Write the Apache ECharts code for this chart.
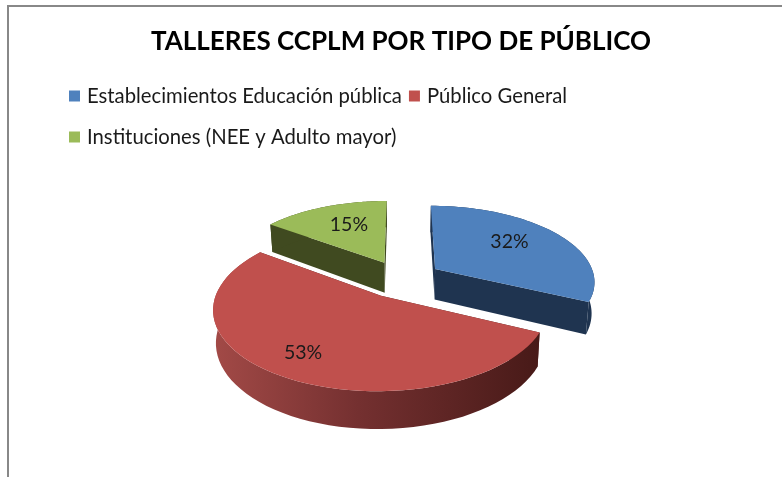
<!DOCTYPE html>
<html>
<head>
<meta charset="utf-8">
<script src="https://cdn.jsdelivr.net/npm/echarts@6/dist/echarts.min.js"></script>
<style>
  html, body { margin: 0; padding: 0; background: #fff; }
  #frame { position: absolute; left: 7px; top: 5px; width: 775px; height: 472px; border-left: 2px solid #888; border-top: 2px solid #888; box-sizing: border-box; }
  #chart { position: absolute; left: 0; top: 0; width: 782px; height: 477px; }
</style>
</head>
<body>
<div id="frame"></div>
<div id="chart"></div>
<script>
const titleText = 'TALLERES CCPLM POR TIPO DE PÚBLICO';
const categories = ['Establecimientos Educación pública', 'Público General', 'Instituciones (NEE y Adulto mayor)'];
const values = [32, 53, 15];

const topColors = ['#4F81BD', '#C0504D', '#9BBB59'];
const wallColors = ['#1F3450', '#4F1F1D', '#404A20'];
const labelRadius = [0.6, 0.8, 0.56];
const labelLift = 5;

// perspective of the tilted pie
const view = { cx: 402, cy: 279, a: 160, b: 75.5, c: 0.15, depth: 31, explode: 0.25, shrink: 0.985 };
const total = values.reduce((s, v) => s + v, 0);

function project(u, v, low) {
  const w = 1 - view.c * v;
  return [
    view.cx + view.a * u / w * (low ? view.shrink : 1),
    view.cy + view.b * v / w + (low ? view.depth / w : 0)
  ];
}

function renderSlice(index) {
  const start = values.slice(0, index).reduce((s, v) => s + v, 0) / total * Math.PI * 2;
  const sweep = values[index] / total * Math.PI * 2;
  const mid = start + sweep / 2;
  const ou = Math.sin(mid) * view.explode;
  const ov = -Math.cos(mid) * view.explode;
  const onRim = (t, low) => project(ou + Math.sin(t), ov - Math.cos(t), low);

  const steps = 60;
  const top = [], bottom = [];
  for (let i = 0; i <= steps; i++) {
    const t = start + sweep * i / steps;
    top.push(onRim(t, false));
    bottom.push(onRim(t, true));
  }
  const apexTop = project(ou, ov, false);
  const apexLow = project(ou, ov, true);

  let rimFill = wallColors[index];
  if (index === 1) {
    rimFill = new echarts.graphic.LinearGradient(212, 0, 538, 0, [
      { offset: 0, color: '#A34A47' },
      { offset: 0.45, color: '#743030' },
      { offset: 1, color: '#481A18' }
    ], true);
  }
  const z = Math.round((-Math.cos(mid) + 1) * 10);
  const lr = labelRadius[index];
  const labelPos = project(ou + Math.sin(mid) * lr, ov - Math.cos(mid) * lr, false);

  return {
    type: 'group',
    children: [
      { type: 'polygon', z2: z, shape: { points: [apexTop, top[0], bottom[0], apexLow] }, style: { fill: wallColors[index] } },
      { type: 'polygon', z2: z, shape: { points: [apexTop, top[steps], bottom[steps], apexLow] }, style: { fill: wallColors[index] } },
      { type: 'polygon', z2: z, shape: { points: top.concat(bottom.slice().reverse()) }, style: { fill: rimFill } },
      { type: 'polygon', z2: z + 1, shape: { points: [apexTop].concat(top) }, style: { fill: topColors[index] } },
      {
        type: 'text', z2: 50,
        style: {
          text: Math.round(values[index] / total * 100) + '%',
          x: labelPos[0], y: labelPos[1] - labelLift,
          fill: '#1a1a1a', font: '19.5px Lato', align: 'center', verticalAlign: 'middle'
        }
      }
    ]
  };
}

const chart = echarts.init(document.getElementById('chart'), null, { renderer: 'canvas' });
chart.setOption({
  animation: false,
  backgroundColor: 'transparent',
  title: {
    text: titleText,
    left: 151,
    top: 29,
    padding: 0,
    textStyle: { fontFamily: 'Lato', fontWeight: 'bold', fontSize: 26, color: '#000' }
  },
  legend: [
    {
      data: categories.slice(0, 2),
      left: 69, top: 86, padding: 0, itemGap: 7,
      icon: 'rect', itemWidth: 11, itemHeight: 11,
      textStyle: { fontFamily: 'Lato', fontSize: 20.3, color: '#1a1a1a', padding: [0, 0, 0, 2] },
      selectedMode: false
    },
    {
      data: categories.slice(2),
      left: 69, top: 127, padding: 0,
      icon: 'rect', itemWidth: 11, itemHeight: 11,
      textStyle: { fontFamily: 'Lato', fontSize: 20.3, color: '#1a1a1a', padding: [0, 0, 0, 2] },
      selectedMode: false
    }
  ],
  series: categories.map((name, i) => ({
    type: 'custom',
    name: name,
    coordinateSystem: 'none',
    itemStyle: { color: topColors[i] },
    data: [values[i]],
    renderItem: () => renderSlice(i)
  }))
});
window.addEventListener('resize', () => chart.resize());
</script>
</body>
</html>
